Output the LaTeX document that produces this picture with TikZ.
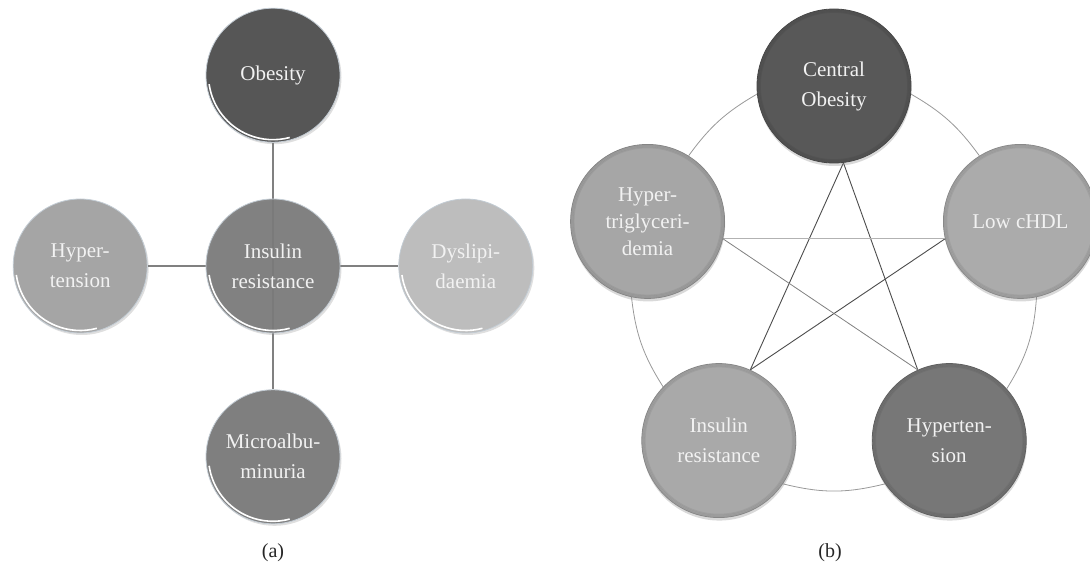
\documentclass[tikz,border=0pt]{standalone}
\usepackage{fontspec}
\setmainfont{Liberation Serif}
\usetikzlibrary{positioning,shadows,backgrounds}

\definecolor{obgray}{HTML}{565656}
\definecolor{insgray}{HTML}{7A7A7A}
\definecolor{hypgray}{HTML}{A5A5A5}
\definecolor{dysgray}{HTML}{BDBDBD}
\definecolor{micgray}{HTML}{7F7F7F}
\definecolor{cogray}{HTML}{585858}
\definecolor{lcgray}{HTML}{ABABAB}
\definecolor{trigray}{HTML}{A6A6A6}
\definecolor{intwogray}{HTML}{A9A9A9}
\definecolor{hytwogray}{HTML}{777777}
\definecolor{rimblue}{HTML}{C3CCD4}

\tikzset{
  glossy/.style={circle, minimum size=134pt, inner sep=0pt, fill=#1,
    draw=rimblue, line width=0.8pt, text=white!95!black, align=center,
    font=\fontsize{21}{30}\selectfont,
    drop shadow={shadow xshift=1.5pt, shadow yshift=-2pt, opacity=0.25},
    path picture={\draw[white, line width=1.6pt]
      ([shift={(188:64.5pt)}]path picture bounding box.center)
      arc[start angle=188, end angle=285, radius=64.5pt];}},
  bevel/.style={circle, minimum size=154pt, inner sep=0pt, fill=#1,
    draw=#1!80!black, line width=0.8pt, text=white!95!black, align=center,
    font=\fontsize{21}{30}\selectfont,
    drop shadow={shadow xshift=0.5pt, shadow yshift=-3pt, opacity=0.3},
    path picture={\foreach \k in {1,2,3}
      \draw[black, opacity=0.06, line width=1.5pt]
        (path picture bounding box.center) circle[radius=77.5pt-\k*1.2pt];}},
  link/.style={draw=black!50, line width=1.6pt},
  ring/.style={draw=black!40, line width=0.8pt},
  pentdark/.style={draw=black!70, line width=0.9pt},
  pentmid/.style={draw=black!50, line width=0.8pt},
  pentlight/.style={draw=black!30, line width=0.8pt},
  caption/.style={font=\fontsize{20}{24}\selectfont, text=black!85},
}

\begin{document}
\begin{tikzpicture}[
    x=1pt, y=1pt,
    node distance=56pt and 58pt,
  ]
  \useasboundingbox (0,0) rectangle (1090,568);
  % pentagon radius
  \pgfmathsetmacro{\R}{196}

  % (a)
  \node[glossy=insgray, fill opacity=0.93, text opacity=1] (ins) at (273,302) {Insulin\\resistance};
  \node[glossy=obgray, above=of ins] (ob) {Obesity};
  \node[glossy=hypgray, left=of ins] (hyp) {Hyper-\\tension};
  \node[glossy=dysgray, right=of ins] (dys) {Dyslipi-\\daemia};
  \node[glossy=micgray, below=of ins] (mic) {Microalbu-\\minuria};

  \begin{scope}[on background layer]
    \draw[link] (ob) -- (mic);
    \draw[link] (hyp) -- (ins);
    \draw[link] (ins) -- (dys);
  \end{scope}

  \node[caption] (capa) at (273,15) {(a)};

  % (b)
  \coordinate (pc) at (834,286);
  \node[bevel=cogray] (co) at ([shift={(90:\R)}]pc) {Central\\Obesity};
  \node[bevel=lcgray] (lc) at ([shift={(18:\R)}]pc) {Low cHDL};
  \node[bevel=hytwogray] (hytwo) at ([shift={(-54:\R)}]pc) {Hyperten-\\sion};
  \node[bevel=intwogray] (intwo) at ([shift={(234:\R)}]pc) {Insulin\\resistance};
  \node[bevel=trigray, font=\fontsize{21}{27}\selectfont] (tri) at ([shift={(162:\R)}]pc) {Hyper-\\triglyceri-\\demia};

  \begin{scope}[on background layer]
    % outer ring
    \draw[ring] (co.-6) to[bend left=12] (lc.122);
    \draw[ring] (lc.282) to[bend left=14] (hytwo.42);
    \draw[ring] (hytwo.214) to[bend left=14] (intwo.326);
    \draw[ring] (intwo.136) to[bend left=13] (tri.258);
    \draw[ring] (tri.58) to[bend left=12] (co.186);
    % inner star
    \draw[pentdark] (co.-83) -- (intwo.66);
    \draw[pentdark] (co.-83) -- (hytwo.114);
    \draw[pentdark] (lc.193) -- (intwo.66);
    \draw[pentlight] (tri.-13) -- (lc.193);
    \draw[pentmid] (tri.-13) -- (hytwo.114);
  \end{scope}

  \node[caption] (capb) at (830,15) {(b)};
\end{tikzpicture}
\end{document}
